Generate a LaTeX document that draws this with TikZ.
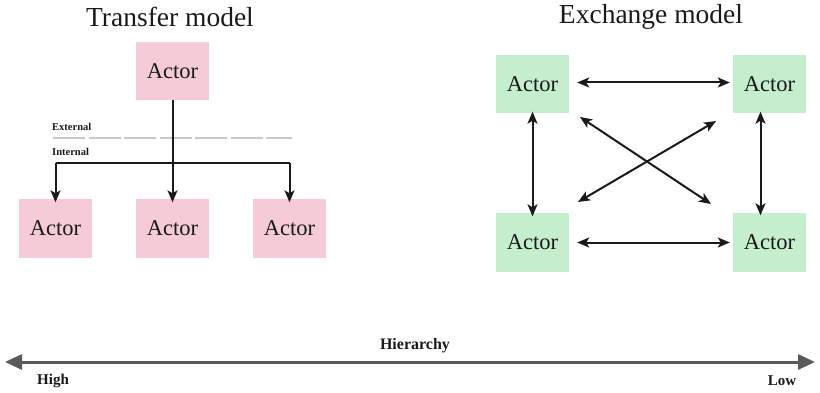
\documentclass[tikz,border=0pt]{standalone}
\usepackage{fontspec}
\setmainfont{Liberation Serif}
\usetikzlibrary{arrows.meta}
\definecolor{pinkbox}{HTML}{F4CBD6}
\definecolor{greenbox}{HTML}{C4EECD}
\definecolor{axisgray}{HTML}{5A5A5A}
\definecolor{dashgray}{HTML}{C8C8C8}
\definecolor{inkblack}{HTML}{1A1A1A}
\tikzset{
  actor/.style={minimum width=73pt, minimum height=58pt, inner sep=0pt, text=inkblack, font=\fontsize{22.5}{25}\selectfont},
  transferbox/.style={actor, fill=pinkbox},
  exchangebox/.style={actor, fill=greenbox},
  tip/.tip={Stealth[length=12pt,width=10pt,inset=3pt]},
  flow/.style={inkblack, line width=2pt, -tip},
  twoway/.style={inkblack, line width=2pt, tip-tip},
  title/.style={text=inkblack, font=\fontsize{27.5}{30}\selectfont},
  smalllabel/.style={text=inkblack, font=\fontsize{10.5}{12}\selectfont\bfseries, anchor=west, inner sep=0pt},
  axislabel/.style={text=inkblack, font=\fontsize{15}{17}\selectfont\bfseries},
}
\begin{document}
\begin{tikzpicture}[x=1pt,y=-1pt]
\useasboundingbox (0,0) rectangle (820,393);

% ---- Transfer model ----
\node[title] (ttitle) at (170,17) {Transfer model};
\node[transferbox] (top) at (172.5,71) {Actor};
\node[transferbox] (b1) at (55.5,228.5) {Actor};
\node[transferbox] (b2) at (172.5,228.5) {Actor};
\node[transferbox] (b3) at (289.5,228.5) {Actor};

\node[smalllabel] (ext) at (52,127) {External};
\node[smalllabel] (int) at (52,152) {Internal};
\coordinate (dl) at (53,138);
\coordinate (dr) at (292,138);
\draw[dashgray, line width=1.8pt, dash pattern=on 32pt off 3.5pt] (dl) -- (dr);

\coordinate (split) at (b2.north |- 0,163);
\draw[flow] (top.south) -- ([yshift=-3pt]b2.north);
\draw[flow] (b1.north |- split) -- ([yshift=-3pt]b1.north);
\draw[inkblack, line width=2pt] (b1.north |- split) -- (b3.north |- split);
\draw[flow] (b3.north |- split) -- ([yshift=-3pt]b3.north);

% ---- Exchange model ----
\node[title] (etitle) at (651,17) {Exchange model};
\node[exchangebox] (tl) at (532.5,84.5) {Actor};
\node[exchangebox] (tr) at (769.5,84.5) {Actor};
\node[exchangebox] (bl) at (532.5,242.5) {Actor};
\node[exchangebox] (br) at (769.5,242.5) {Actor};

\draw[twoway] ([xshift=8pt,yshift=2pt]tl.east) -- ([xshift=-3pt,yshift=2pt]tr.west);
\draw[twoway] ([xshift=8pt]bl.east) -- ([xshift=-3pt]br.west);
\draw[twoway] ([yshift=2pt]tl.south) -- ([yshift=-3pt]bl.north);
\draw[twoway] ([xshift=-9pt,yshift=2pt]tr.south) -- ([xshift=-9pt,yshift=-2pt]br.north);
\coordinate (x1a) at (580,117);
\coordinate (x1b) at (711,204);
\coordinate (x2a) at (578,202);
\coordinate (x2b) at (716,121);
\draw[twoway] (x1a) -- (x1b);
\draw[twoway] (x2a) -- (x2b);

% ---- Hierarchy axis ----
\coordinate (axl) at (5,362);
\coordinate (axr) at (815,362);
\draw[axisgray, line width=3pt, {Triangle[length=17pt,width=15pt]}-{Triangle[length=17pt,width=15pt]}] (axl) -- (axr);
\node[axislabel, font=\fontsize{16}{18}\selectfont\bfseries] (hier) at (415,346) {Hierarchy};
\node[axislabel] (high) at (53,381) {High};
\node[axislabel] (low) at (782,381) {Low};
\end{tikzpicture}
\end{document}
